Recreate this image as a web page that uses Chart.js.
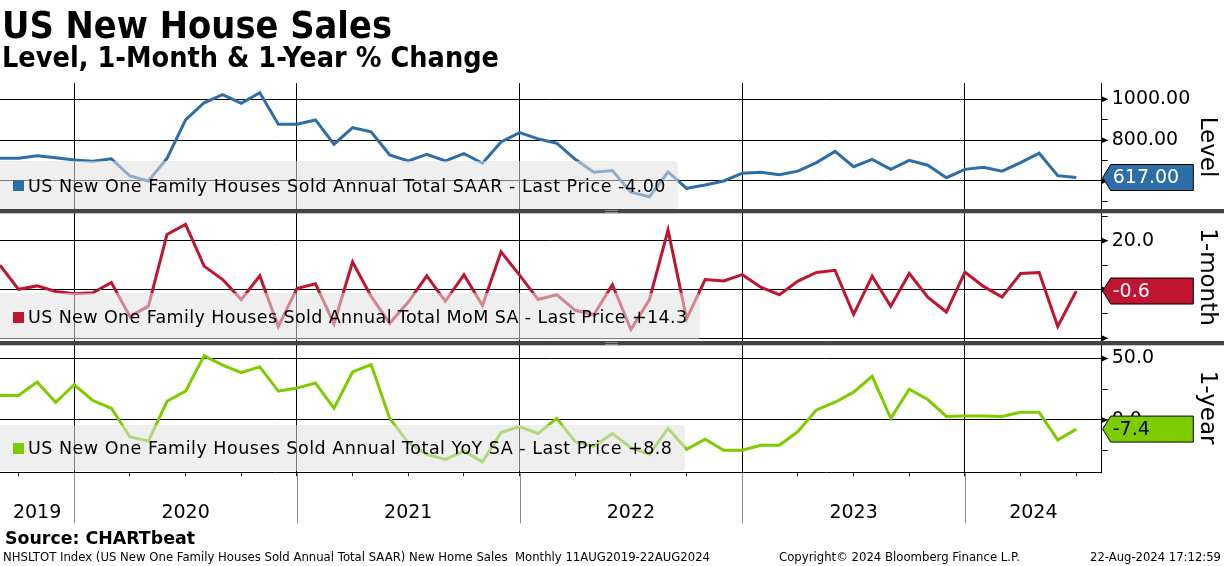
<!DOCTYPE html>
<html><head><meta charset="utf-8">
<script src="https://cdn.jsdelivr.net/npm/chart.js@4.4.1/dist/chart.umd.min.js"></script>
<style>
html,body{margin:0;padding:0;background:#fff;}
body{width:1224px;height:566px;position:relative;overflow:hidden;font-family:'DejaVu Sans',sans-serif;color:#000;}
#c{position:absolute;left:0;top:0;}
.t{position:absolute;white-space:pre;line-height:1;transform-origin:0 0;}
.lg{position:absolute;left:0;background:rgba(225,225,225,0.55);border-radius:0 4px 4px 0;}
.sq{position:absolute;left:13px;width:11px;height:11px;}
</style></head>
<body>
<canvas id="c" width="1224" height="566"></canvas>
<div class="t" data-w="390" style="left:2px;top:5.5px;font-size:38px;font-weight:bold;">US New House Sales</div>
<div class="t" data-w="497" style="left:2px;top:44.3px;font-size:28px;font-weight:bold;">Level, 1-Month &amp; 1-Year % Change</div>
<div class="t" data-w="190" style="left:5px;top:528.5px;font-size:18px;font-weight:bold;">Source: CHARTbeat</div>
<div class="t" data-w="707" style="left:3px;top:551px;font-size:12.5px;">NHSLTOT Index (US New One Family Houses Sold Annual Total SAAR) New Home Sales  Monthly 11AUG2019-22AUG2024</div>
<div class="t" data-w="241" style="left:779px;top:551px;font-size:12.5px;">Copyright© 2024 Bloomberg Finance L.P.</div>
<div class="t" data-w="131" style="left:1090px;top:551px;font-size:12.5px;">22-Aug-2024 17:12:59</div>
<div id="legends"></div>
<script>
// ---------- DATA ----------
const months = ['Aug 2019','Sep 2019','Oct 2019','Nov 2019','Dec 2019',
 'Jan 2020','Feb 2020','Mar 2020','Apr 2020','May 2020','Jun 2020','Jul 2020','Aug 2020','Sep 2020','Oct 2020','Nov 2020','Dec 2020',
 'Jan 2021','Feb 2021','Mar 2021','Apr 2021','May 2021','Jun 2021','Jul 2021','Aug 2021','Sep 2021','Oct 2021','Nov 2021','Dec 2021',
 'Jan 2022','Feb 2022','Mar 2022','Apr 2022','May 2022','Jun 2022','Jul 2022','Aug 2022','Sep 2022','Oct 2022','Nov 2022','Dec 2022',
 'Jan 2023','Feb 2023','Mar 2023','Apr 2023','May 2023','Jun 2023','Jul 2023','Aug 2023','Sep 2023','Oct 2023','Nov 2023','Dec 2023',
 'Jan 2024','Feb 2024','Mar 2024','Apr 2024','May 2024','Jun 2024'];
const level = [711,711,724,714,703,697,709,625,600,711,899,983,1023,980,1032,878,878,899,780,861,841,727,698,731,698,734,687,791,837,806,785,706,643,651,545,523,644,564,580,600,638,643,631,648,690,745,670,706,657,701,677,616,657,667,648,690,736,626,617];
const mom = [10.0,0.1,1.5,-0.8,-1.7,-1.3,2.9,-11.0,-6.8,22.6,26.7,9.6,4.1,-4.1,5.6,-15.1,0.4,2.4,-14.0,11.3,-2.8,-13.8,-5.1,5.6,-4.8,6.1,-6.5,15.5,5.9,-4.1,-2.1,-8.5,-10.3,2.0,-16.4,-4.1,24.4,-12.0,4.1,3.5,6.1,1.0,-2.1,3.5,7.0,7.9,-10.2,5.5,-6.9,6.6,-3.1,-9.2,7.2,1.3,-3.1,6.6,7.0,-15.1,-0.6];
const yoy = [19.9,19.9,30.8,14.4,28.6,15.8,9.5,-13.7,-17.0,15.2,23.4,52.1,44.5,38.5,43.1,23.4,25.9,30.0,9.5,39.0,45.0,1.3,-18.4,-27.9,-32.0,-25.2,-34.0,-10.2,-5.3,-11.0,1.3,-17.6,-21.4,-11.0,-22.5,-27.9,-6.9,-23.8,-15.6,-24.6,-24.6,-20.5,-20.5,-9.4,8.2,14.4,22.6,35.5,1.3,25.0,16.6,2.9,3.2,3.2,2.9,6.2,6.2,-16.2,-7.4];
const seriesNames = ['US New One Family Houses Sold Annual Total SAAR','US New One Family Houses Sold Annual Total MoM SA','US New One Family Houses Sold Annual Total YoY SA'];
const legendPrices = ['-4.00','+14.3','+8.8'];
const axisTitles = ['Level','1-month','1-year'];
const yearLabels = ['2019','2020','2021','2022','2023','2024'];

// ---------- STYLE / LAYOUT ----------
const colors = ['#2d6da8','#c01530','#7dcc00'];
const boxText = ['#fff','#fff','#000'];
const series = [level, mom, yoy];
const panels = [
  {id:'y1', min:453, max:1079.8, step:100, major:200, dec:2, weight:128},
  {id:'y2', min:-21.9, max:32.2, step:10, major:20, dec:1, weight:132},
  {id:'y3', min:-42.4, max:62.5, step:25, major:50, dec:1, weight:129.2}
];
const xMin = 0, xMax = months.length - 1 + 1.37;
const FONT = "'DejaVu Sans', sans-serif";

const isMajor = (v, m) => Math.abs(Math.round(v) % m) < 1e-9 && Math.abs(v - Math.round(v)) < 1e-9;

// x ticks: quarter ends, year boundaries (Dec), and year label positions
const yearBounds = [];
const xTicks = [];
months.forEach((m, i) => {
  const mo = m.slice(0,3);
  if (mo === 'Dec') { yearBounds.push(i); xTicks.push({value:i, kind:'year'}); }
  else if (mo === 'Mar' || mo === 'Jun' || mo === 'Sep') xTicks.push({value:i, kind:'q'});
});
const edges = [xMin, ...yearBounds, xMax];
yearLabels.forEach((lab, k) => xTicks.push({value:(edges[k] + edges[k+1]) / 2, kind:'label', lab}));
xTicks.sort((a, b) => a.value - b.value);

// ---------- LEGENDS (HTML overlay) ----------
const legendGeom = [
  {top:161, h:48, w:678, sq:180, base:192.7, tw:638},
  {top:293.3, h:47, w:700, sq:311.7, base:324.3, tw:659.5},
  {top:425, h:46, w:685, sq:442.7, base:455, tw:644.5}
];
const lgWrap = document.getElementById('legends');
legendGeom.forEach((g, k) => {
  const box = document.createElement('div');
  box.className = 'lg';
  box.style.cssText = `top:${g.top}px;height:${g.h}px;width:${g.w}px;`;
  lgWrap.appendChild(box);
  const sq = document.createElement('div');
  sq.className = 'sq';
  sq.style.cssText = `top:${g.sq}px;background:${colors[k]};`;
  lgWrap.appendChild(sq);
  const tx = document.createElement('div');
  tx.className = 't';
  tx.dataset.ls = g.tw;
  tx.style.cssText = `left:28px;top:${g.base - 0.846*17.5}px;font-size:17.5px;`;
  tx.textContent = seriesNames[k] + ' - Last Price ' + legendPrices[k];
  lgWrap.appendChild(tx);
});

// fit text widths
document.querySelectorAll('.t[data-w]').forEach(el => {
  const w = el.getBoundingClientRect().width;
  el.style.transform = `scaleX(${(+el.dataset.w) / w})`;
});
document.querySelectorAll('.t[data-ls]').forEach(el => {
  const w = el.getBoundingClientRect().width;
  el.style.letterSpacing = (((+el.dataset.ls) - w) / el.textContent.length) + 'px';
});

// ---------- CHART ----------
function yAxis(p, k) {
  return {
    type:'linear', position:'right', stack:'panels', stackWeight:p.weight,
    min:p.min, max:p.max, bounds:'data',
    afterBuildTicks(s) {
      const t = [];
      for (let v = Math.ceil(p.min / p.step) * p.step; v <= p.max + 1e-9; v += p.step) t.push({value: Math.round(v * 1000) / 1000});
      s.ticks = t;
    },
    afterFit(s) { s.width = 122.3; },
    grid:{
      color: c => (c.tick && isMajor(c.tick.value, p.major)) ? '#000' : 'rgba(0,0,0,0)',
      tickColor:'#000', tickLength:6, lineWidth:1
    },
    border:{display:true, color:'#000', width:1},
    ticks:{
      autoSkip:false, padding:4, color:'#000',
      font:{family:FONT, size:19},
      callback: v => {
        const fromBottom = (v - p.min) / (p.max - p.min) * p.weight;
        const fromTop = p.weight - fromBottom;
        return (isMajor(v, p.major) && fromBottom > 12 && fromTop > 12) ? v.toFixed(p.dec) : '';
      }
    },
    title:{display:true, text:axisTitles[k], color:'#000', font:{family:FONT, size:23}, padding:{top:3, bottom:0}}
  };
}

const decor = {
  id:'decor',
  afterDraw(chart) {
    const ctx = chart.ctx, xs = chart.scales.x;
    const ys = panels.map(p => chart.scales[p.id]);
    ctx.save();
    // year divider lines in the label area
    ctx.strokeStyle = '#8a8a8a'; ctx.lineWidth = 1;
    yearBounds.forEach(b => {
      const px = Math.round(xs.getPixelForValue(b)) + 0.5;
      ctx.beginPath(); ctx.moveTo(px, xs.top + 1); ctx.lineTo(px, xs.top + 51); ctx.stroke();
    });
    // arrow markers at major ticks
    ctx.fillStyle = '#000';
    ys.forEach((s, k) => {
      s.ticks.forEach(t => {
        if (!isMajor(t.value, panels[k].major)) return;
        const py = s.getPixelForValue(t.value);
        ctx.beginPath(); ctx.moveTo(s.left, py - 3); ctx.lineTo(s.left + 6.5, py); ctx.lineTo(s.left, py + 3); ctx.closePath(); ctx.fill();
      });
    });
    // panel separators
    for (let k = 0; k < ys.length - 1; k++) {
      const yb = ys[k].bottom;
      ctx.fillStyle = '#444';
      ctx.fillRect(0, yb - 2, chart.width, 4.3);
      ctx.fillStyle = '#9c9c9c';
      ctx.fillRect(605, yb - 1, 13, 0.8);
      ctx.fillRect(605, yb + 1, 13, 0.8);
    }
    // last value boxes
    ys.forEach((s, k) => {
      const data = series[k];
      const last = data[data.length - 1];
      const py = s.getPixelForValue(last);
      const x0 = s.left + 1, x1 = x0 + 8, x2 = s.left + 91.6;
      ctx.beginPath();
      ctx.moveTo(x0, py); ctx.lineTo(x1, py - 13); ctx.lineTo(x2, py - 13); ctx.lineTo(x2, py + 13); ctx.lineTo(x1, py + 13); ctx.closePath();
      ctx.fillStyle = colors[k]; ctx.fill();
      ctx.strokeStyle = '#000'; ctx.lineWidth = 1; ctx.stroke();
      ctx.fillStyle = boxText[k];
      ctx.font = `19px ${FONT}`; ctx.textAlign = 'left'; ctx.textBaseline = 'middle';
      ctx.fillText(last.toFixed(panels[k].dec), x1 + 2, py + 1);
    });
    ctx.restore();
  }
};

const scales = {
  x:{
    type:'linear', position:'bottom', min:xMin, max:xMax, bounds:'data',
    afterBuildTicks(s) { s.ticks = xTicks.map(t => Object.assign({}, t)); },
    afterFit(s) { s.height = 59.8; s.paddingLeft = 0; s.paddingRight = 0; },
    grid:{
      color: c => (c.tick && c.tick.kind === 'year') ? '#000' : 'rgba(0,0,0,0)',
      tickColor: c => (c.tick && c.tick.kind === 'label') ? 'rgba(0,0,0,0)' : '#000',
      tickLength:4, lineWidth:1
    },
    border:{display:true, color:'#000', width:1},
    ticks:{autoSkip:false, maxRotation:0, minRotation:0, padding:25.5, color:'#000',
      font:{family:FONT, size:19},
      callback:(v, i, t) => (t[i] && t[i].lab) ? t[i].lab : ''}
  }
};
panels.forEach((p, k) => { scales[p.id] = yAxis(p, k); });

new Chart(document.getElementById('c'), {
  type:'line',
  data:{
    labels: months,
    datasets: series.map((d, k) => ({
      label: seriesNames[k],
      data: d.map((v, i) => ({x:i, y:v})),
      yAxisID: panels[k].id,
      borderColor: colors[k], backgroundColor: colors[k],
      borderWidth: 3, pointRadius: 0, tension: 0, fill: false
    }))
  },
  options:{
    responsive:false, animation:false, events:[],
    layout:{padding:{top:83, bottom:34, left:0, right:0}},
    plugins:{legend:{display:false}, tooltip:{enabled:false}, title:{display:false}},
    scales
  },
  plugins:[decor]
});
</script>
</body></html>
